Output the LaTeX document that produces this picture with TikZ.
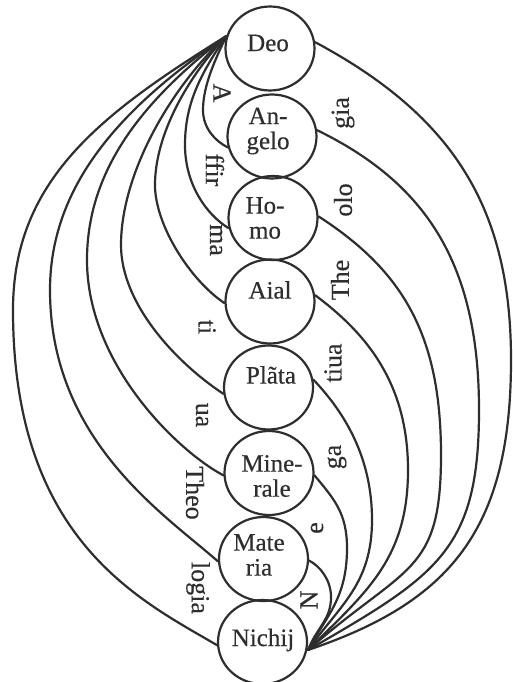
\documentclass[tikz,border=0pt]{standalone}
\usepackage{fontspec}
\setmainfont{Liberation Serif}
\newfontfamily\oldprint[FakeBold=0.4]{Liberation Serif}
\usetikzlibrary{shapes.geometric}
\definecolor{inkc}{HTML}{2E2E2E}
\begin{document}
\begin{tikzpicture}[x=1pt,y=-1pt,
  orb/.style={ellipse, draw=inkc, line width=2.2pt, minimum width=89pt, minimum height=84pt, inner sep=0pt},
  word/.style={text=inkc, font=\oldprint\fontsize{25}{25}\selectfont, align=center, inner sep=0pt},
  lab/.style={text=inkc, font=\oldprint\fontsize{26}{26}\selectfont, inner sep=0pt},
  labL/.style={lab, rotate=-90},
  labR/.style={lab, rotate=90},
  wire/.style={draw=inkc, line width=2.2pt, line cap=round}]
\fill[white] (0,0) rectangle (512,682);
\useasboundingbox (0,0) rectangle (512,682);

% circles
\node[orb] (deo)    at (270,48.5) {};
\node[orb] (ang)    at (272,136.5) {};
\node[orb] (homo)   at (273,218) {};
\node[orb] (aial)   at (270,301.5) {};
\node[orb] (plata)  at (268.5,387.5) {};
\node[orb] (miner)  at (269,473) {};
\node[orb] (mater)  at (263.5,559) {};
\node[orb] (nichil) at (262.5,642) {};

% words in circles
\node[word] (tdeo)   at (268,43)  {Deo};
\node[word] (tang)   at (268,131) {An-\\gelo};
\node[word] (thomo)  at (265,218) {Ho-\\mo};
\node[word] (taial)  at (270,290) {Aial};
\node[word] (tplata) at (271,375) {Plãta};
\node[word] (tminer) at (272,476) {Mine-\\rale};
\node[word] (tmater) at (259,555) {Mate\\ria};
\node[word] (tnich)  at (263,640) {Nichij};

% convergence points
\coordinate (cL) at (deo.164);
\coordinate (cR) at (308,650);

% apex points, right
\coordinate (r1) at (511,360);
\coordinate (r2) at (479,410);
\coordinate (r3) at (441,455);
\coordinate (r4) at (408,470);
\coordinate (r5) at (372,520);
\coordinate (r6) at (347,548);
\coordinate (r7) at (331,597);
% apex points, left
\coordinate (l1) at (203,110);
\coordinate (l2) at (185,145);
\coordinate (l3) at (155,185);
\coordinate (l4) at (121,245);
\coordinate (l5) at (87,260);
\coordinate (l6) at (50,290);
\coordinate (l7) at (13,310);

% right curves
\draw[wire] (deo.8) .. controls (455,117) and (511,210) .. (r1) .. controls (511,530) and (450,602) .. (cR);
\draw[wire] (ang.8) .. controls (423,182) and (479,260) .. (r2) .. controls (479,550) and (438,575) .. (cR);
\draw[wire] (homo.2) .. controls (403,271) and (441,335) .. (r3) .. controls (441,575) and (406,564) .. (cR);
\draw[wire] (aial.8) .. controls (363,331) and (408,380) .. (r4) .. controls (408,560) and (365,593) .. (cR);
\draw[wire] (plata.10) .. controls (347,415) and (372,460) .. (r5) .. controls (372,584) and (340,605) .. (cR);
\draw[wire] (miner.-3) .. controls (334,499) and (347,513) .. (r6) .. controls (347,598) and (327,615) .. (cR);
\draw[wire] (mater.-2) .. controls (320,566) and (331,580) .. (r7) .. controls (331,620) and (317,627) .. (cR);

% left curves
\draw[wire] (cL) .. controls (216,58) and (203,85) .. (l1) .. controls (203,128) and (215,141) .. (ang.194);
\draw[wire] (cL) .. controls (199,76) and (185,105) .. (l2) .. controls (185,185) and (207,215) .. (homo.193);
\draw[wire] (cL) .. controls (187,78) and (155,135) .. (l3) .. controls (155,225) and (190,280) .. (aial.182);
\draw[wire] (cL) .. controls (169,89) and (121,175) .. (l4) .. controls (121,305) and (178,364) .. (plata.188);
\draw[wire] (cL) .. controls (149,96) and (87,165) .. (l5) .. controls (87,365) and (179,452) .. (miner.183);
\draw[wire] (cL) .. controls (129,102) and (50,180) .. (l6) .. controls (50,440) and (164,514) .. (mater.183);
\draw[wire] (cL) .. controls (101,114) and (13,180) .. (l7) .. controls (13,540) and (140,600) .. (nichil.184);

% left labels (read top to bottom)
\node[labL] (a1) at (222,93)  {A};
\node[labL] (a2) at (215,170) {ffir};
\node[labL] (a3) at (216,240) {ma};
\node[labL] (a4) at (207,327) {ti};
\node[labL] (a5) at (202,415) {ua};
\node[labL] (a6) at (195,493) {Theo};
\node[labL] (a7) at (198,588) {logia};

% right labels (read bottom to top)
\node[labR] (n1) at (309,600) {N};
\node[labR] (n2) at (317,528) {e};
\node[labR] (n3) at (337,457) {ga};
\node[labR] (n4) at (333,363) {tiua};
\node[labR] (n5) at (340,280) {The};
\node[labR] (n6) at (343,200) {olo};
\node[labR] (n7) at (343,113) {gia};
\end{tikzpicture}
\end{document}
